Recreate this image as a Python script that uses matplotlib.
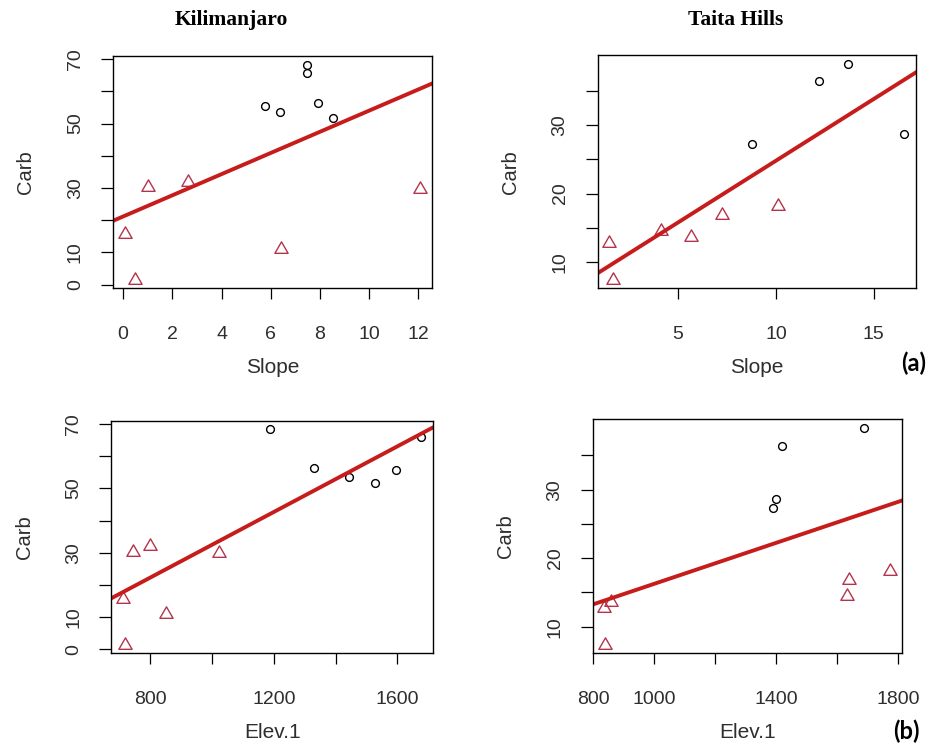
import numpy as np
import matplotlib.pyplot as plt
from matplotlib.path import Path
from matplotlib.transforms import ScaledTranslation

plt.rcParams['font.family'] = ['Liberation Sans', 'DejaVu Sans']

# Kilimanjaro sites (class 1 = circle, class 2 = triangle)
kili_carb = [68.3, 65.8, 56.3, 55.6, 53.5, 51.7, 30.2, 32.0, 15.8, 1.5, 10.9, 29.8]
kili_slope = [7.49, 7.49, 7.90, 5.77, 6.36, 8.51, 1.01, 2.63, 0.07, 0.48, 6.43, 12.07]
kili_elev = [1186, 1678, 1331, 1597, 1443, 1526, 743, 798, 711, 716, 849, 1023]
kili_class = [1, 1, 1, 1, 1, 1, 2, 2, 2, 2, 2, 2]

# Taita Hills sites
taita_carb = [27.3, 28.7, 36.4, 39.0, 12.7, 7.4, 14.5, 13.6, 16.8, 18.2]
taita_slope = [8.76, 16.54, 12.18, 13.67, 1.50, 1.70, 4.15, 5.68, 7.26, 10.09]
taita_elev = [1390, 1401, 1420, 1689, 835, 838, 1632, 857, 1640, 1775]
taita_class = [1, 1, 1, 1, 2, 2, 2, 2, 2, 2]

# ticks (R hides labels that would overlap)
kili_carb_ticks = [0, 10, 20, 30, 40, 50, 60, 70]
kili_carb_labels = ['0', '10', '', '30', '', '50', '', '70']
taita_carb_ticks = [10, 15, 20, 25, 30, 35]
taita_carb_labels = ['10', '', '20', '', '30', '']
kili_slope_ticks = [0, 2, 4, 6, 8, 10, 12]
kili_slope_labels = ['0', '2', '4', '6', '8', '10', '12']
taita_slope_ticks = [5, 10, 15]
taita_slope_labels = ['5', '10', '15']
kili_elev_ticks = [800, 1000, 1200, 1400, 1600]
kili_elev_labels = ['800', '', '1200', '', '1600']
taita_elev_ticks = [800, 1000, 1200, 1400, 1600, 1800]
taita_elev_labels = ['800', '1000', '', '1400', '', '1800']

line_col = '#c71c1c'
tri_col = '#b3344a'
text_col = '#2e2e2e'

# equilateral triangle like R's pch=2
tri = Path([(0, 0.577), (-0.5, -0.289), (0.5, -0.289), (0, 0.577)], closed=True)

fig = plt.figure(figsize=(9.3, 7.46), dpi=100)


def r_range(v):
    lo, hi = min(v), max(v)
    pad = 0.04 * (hi - lo)
    return lo - pad, hi + pad


def panel(rect, x, y, cls, xticks, xlabels, yticks, ylabels, xlabel):
    ax = fig.add_axes(rect)
    x = np.asarray(x, float)
    y = np.asarray(y, float)
    cls = np.asarray(cls)
    ax.plot(x[cls == 1], y[cls == 1], ls='none', marker='o', ms=5.6,
            mfc='none', mec='black', mew=1.0)
    ax.plot(x[cls == 2], y[cls == 2], ls='none', marker=tri, ms=11,
            mfc='none', mec=tri_col, mew=1.0)
    ax.set_xlim(*r_range(x))
    ax.set_ylim(*r_range(y))
    # abline(lm(y ~ x))
    b, a = np.polyfit(x, y, 1)
    ax.axline((x.mean(), a + b * x.mean()), slope=b, color=line_col, lw=2.8)

    ax.set_xticks(xticks)
    ax.set_xticklabels(xlabels)
    ax.set_yticks(yticks)
    ax.set_yticklabels(ylabels, rotation=90, va='center', ha='center')
    ax.tick_params(axis='x', direction='out', length=8, width=0.9, pad=19,
                   labelsize=14, labelcolor=text_col)
    ax.tick_params(axis='y', direction='out', length=9, width=0.9, pad=18,
                   labelsize=14, labelcolor=text_col)
    for s in ax.spines.values():
        s.set_linewidth(1.0)
        s.set_color('black')

    ax.set_xlabel(xlabel, fontsize=15, color=text_col, va='center')
    ax.xaxis.set_label_coords(0.5, 0, transform=ax.transAxes +
                              ScaledTranslation(0, -0.79, fig.dpi_scale_trans))
    ax.set_ylabel('Carb', fontsize=14.5, color=text_col, va='center')
    ax.yaxis.set_label_coords(0, 0.5, transform=ax.transAxes +
                              ScaledTranslation(-0.87, 0, fig.dpi_scale_trans))
    return ax


panel([0.1215, 0.6135, 0.3430, 0.3114], kili_slope, kili_carb, kili_class,
      kili_slope_ticks, kili_slope_labels, kili_carb_ticks, kili_carb_labels, 'Slope')
panel([0.6427, 0.6135, 0.3419, 0.3128], taita_slope, taita_carb, taita_class,
      taita_slope_ticks, taita_slope_labels, taita_carb_ticks, taita_carb_labels, 'Slope')
panel([0.1194, 0.1243, 0.3466, 0.3118], kili_elev, kili_carb, kili_class,
      kili_elev_ticks, kili_elev_labels, kili_carb_ticks, kili_carb_labels, 'Elev.1')
panel([0.6373, 0.1243, 0.3323, 0.3137], taita_elev, taita_carb, taita_class,
      taita_elev_ticks, taita_elev_labels, taita_carb_ticks, taita_carb_labels, 'Elev.1')

fig.text(231.7 / 930, 1 - 20 / 746, 'Kilimanjaro', family='Liberation Serif',
         weight='bold', fontsize=15.5, ha='center', va='center', color='black')
fig.text(736 / 930, 1 - 20 / 746, 'Taita Hills', family='Liberation Serif',
         weight='bold', fontsize=15.5, ha='center', va='center', color='black')
fig.text(914 / 930, 1 - 363 / 746, '(a)', family='Lato', weight='bold',
         fontsize=17, ha='center', va='center', color='black')
fig.text(906 / 930, 1 - 731 / 746, '(b)', family='Lato', weight='bold',
         fontsize=17, ha='center', va='center', color='black')

fig.savefig('out.png', dpi=100)
